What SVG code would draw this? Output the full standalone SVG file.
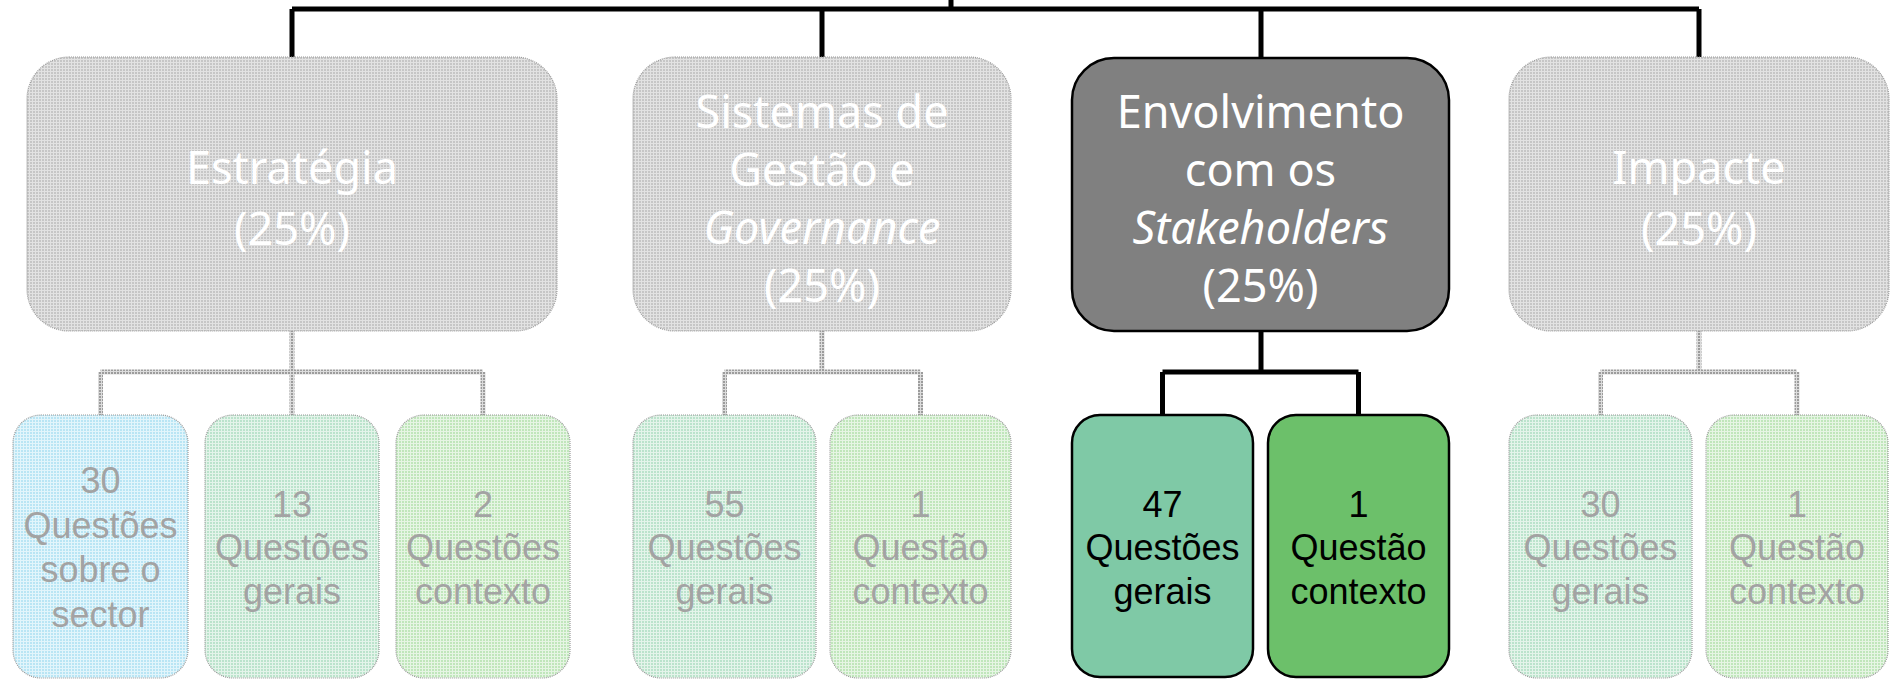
<svg xmlns="http://www.w3.org/2000/svg" width="1892" height="679" viewBox="0 0 1892 679">
<defs>
<pattern id="pGray" width="3" height="3" patternUnits="userSpaceOnUse"><rect width="3" height="3" fill="#e2e2e2"/><rect width="2" height="2" fill="#c6c6c6"/></pattern>
<pattern id="pLine" width="3" height="3" patternUnits="userSpaceOnUse"><rect width="3" height="3" fill="#dcdcdc"/><rect width="2" height="2" fill="#9c9c9c"/></pattern>
<pattern id="pBlue" width="3" height="3" patternUnits="userSpaceOnUse"><rect width="3" height="3" fill="#e2f5fb"/><rect width="2" height="2" fill="#b9e5f4"/></pattern>
<pattern id="pMint" width="3" height="3" patternUnits="userSpaceOnUse"><rect width="3" height="3" fill="#e4f4ea"/><rect width="2" height="2" fill="#bbe3cc"/></pattern>
<pattern id="pGreen" width="3" height="3" patternUnits="userSpaceOnUse"><rect width="3" height="3" fill="#e6f5e4"/><rect width="2" height="2" fill="#c0e6bb"/></pattern>
</defs>
<style>
.faded{stroke:#9a9a9a;stroke-width:1.2;stroke-dasharray:1 1}
.solid{stroke:#000;stroke-width:2.5}
.t{font-family:"Noto Sans","Open Sans","Liberation Sans",sans-serif;text-anchor:middle}
.big{font-size:45px}
.small{font-family:"Liberation Sans","Arial",sans-serif;font-size:36px}
.w{fill:#ffffff}
.g{fill:#a3a3a3}
.k{fill:#000000}
.it{font-style:italic}
.cs{fill:none;stroke:#000;stroke-width:5}
.cf{fill:none;stroke:url(#pLine);stroke-width:5}
</style>
<g id="connectors">
<path class="cs" d="M951 0V9M292 9H1699M292 9V57M822 9V57M1261 9V57M1699 9V57"/>
<path class="cf" d="M292 331V372M100.5 372H483M100.5 372V415M292 372V415M483 372V415"/>
<path class="cf" d="M822 331V372M724.5 372H920.5M724.5 372V415M920.5 372V415"/>
<path class="cs" d="M1261 331V372M1162.5 372H1358.5M1162.5 372V415M1358.5 372V415"/>
<path class="cf" d="M1699 331V372M1600.5 372H1797M1600.5 372V415M1797 372V415"/>
</g>
<g id="estrategia">
<rect class="faded" x="27" y="57" width="530" height="274" rx="42" fill="url(#pGray)"/>
<text class="t big w" x="292" y="184">Estratégia</text>
<text class="t big w" x="292" y="245">(25%)</text>
</g>
<g id="sistemas">
<rect class="faded" x="633" y="57" width="378" height="274" rx="42" fill="url(#pGray)"/>
<text class="t big w" x="822" y="128">Sistemas de</text>
<text class="t big w" x="822" y="186">Gestão e</text>
<text class="t big w it" x="822" y="244">Governance</text>
<text class="t big w" x="822" y="302">(25%)</text>
</g>
<g id="envolvimento">
<rect class="solid" x="1072" y="58" width="377" height="273" rx="42" fill="#808080"/>
<text class="t big w" x="1260.5" y="128">Envolvimento</text>
<text class="t big w" x="1260.5" y="186">com os</text>
<text class="t big w it" x="1260.5" y="244">Stakeholders</text>
<text class="t big w" x="1260.5" y="302">(25%)</text>
</g>
<g id="impacte">
<rect class="faded" x="1509" y="57" width="380" height="274" rx="42" fill="url(#pGray)"/>
<text class="t big w" x="1699" y="184">Impacte</text>
<text class="t big w" x="1699" y="245">(25%)</text>
</g>
<g id="e1">
<rect class="faded" x="13" y="415" width="175" height="263" rx="28" fill="url(#pBlue)"/>
<text class="t small g" x="100.5" y="493">30</text>
<text class="t small g" x="100.5" y="538">Questões</text>
<text class="t small g" x="100.5" y="582">sobre o</text>
<text class="t small g" x="100.5" y="627">sector</text>
</g>
<g id="e2">
<rect class="faded" x="205" y="415" width="174" height="263" rx="28" fill="url(#pMint)"/>
<text class="t small g" x="292" y="517">13</text>
<text class="t small g" x="292" y="560">Questões</text>
<text class="t small g" x="292" y="604">gerais</text>
</g>
<g id="e3">
<rect class="faded" x="396" y="415" width="174" height="263" rx="28" fill="url(#pGreen)"/>
<text class="t small g" x="483" y="517">2</text>
<text class="t small g" x="483" y="560">Questões</text>
<text class="t small g" x="483" y="604">contexto</text>
</g>
<g id="s1">
<rect class="faded" x="633" y="415" width="183" height="263" rx="28" fill="url(#pMint)"/>
<text class="t small g" x="724.5" y="517">55</text>
<text class="t small g" x="724.5" y="560">Questões</text>
<text class="t small g" x="724.5" y="604">gerais</text>
</g>
<g id="s2">
<rect class="faded" x="830" y="415" width="181" height="263" rx="28" fill="url(#pGreen)"/>
<text class="t small g" x="920.5" y="517">1</text>
<text class="t small g" x="920.5" y="560">Questão</text>
<text class="t small g" x="920.5" y="604">contexto</text>
</g>
<g id="v1">
<rect class="solid" x="1072" y="415" width="181" height="262" rx="28" fill="#7fc9a6"/>
<text class="t small k" x="1162.5" y="517">47</text>
<text class="t small k" x="1162.5" y="560">Questões</text>
<text class="t small k" x="1162.5" y="604">gerais</text>
</g>
<g id="v2">
<rect class="solid" x="1268" y="415" width="181" height="262" rx="28" fill="#6cc06a"/>
<text class="t small k" x="1358.5" y="517">1</text>
<text class="t small k" x="1358.5" y="560">Questão</text>
<text class="t small k" x="1358.5" y="604">contexto</text>
</g>
<g id="i1">
<rect class="faded" x="1509" y="415" width="183" height="263" rx="28" fill="url(#pMint)"/>
<text class="t small g" x="1600.5" y="517">30</text>
<text class="t small g" x="1600.5" y="560">Questões</text>
<text class="t small g" x="1600.5" y="604">gerais</text>
</g>
<g id="i2">
<rect class="faded" x="1706" y="415" width="182" height="263" rx="28" fill="url(#pGreen)"/>
<text class="t small g" x="1797" y="517">1</text>
<text class="t small g" x="1797" y="560">Questão</text>
<text class="t small g" x="1797" y="604">contexto</text>
</g>
</svg>
